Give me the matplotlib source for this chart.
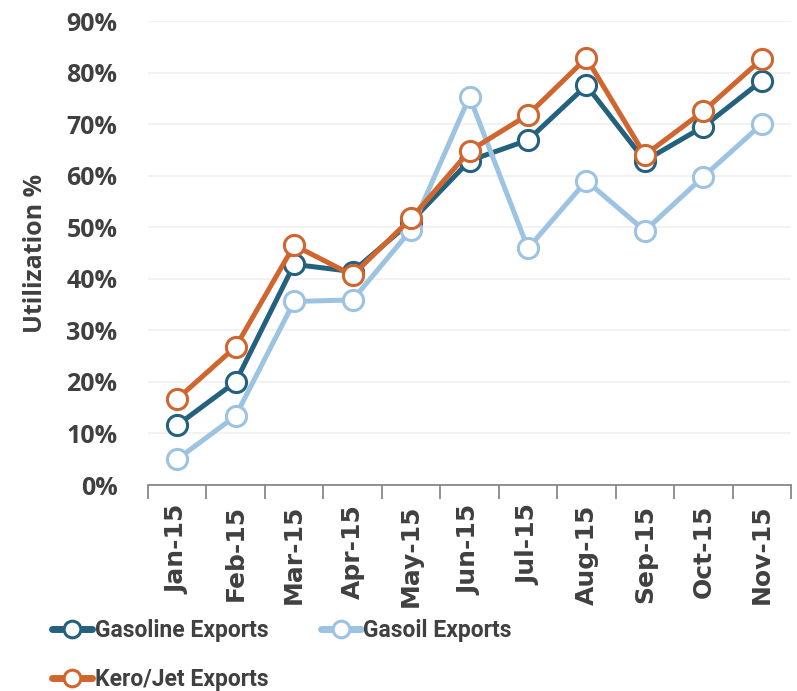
import matplotlib
matplotlib.use("Agg")
import matplotlib.pyplot as plt
from matplotlib.ticker import FixedLocator, PercentFormatter

months = ["Jan-15", "Feb-15", "Mar-15", "Apr-15", "May-15", "Jun-15",
          "Jul-15", "Aug-15", "Sep-15", "Oct-15", "Nov-15"]
gasoline = [11.6, 20.0, 42.8, 41.4, 51.1, 62.9, 66.9, 77.5, 62.9, 69.5, 78.4]
gasoil = [5.0, 13.4, 35.6, 35.9, 49.5, 75.3, 45.9, 59.0, 49.3, 59.8, 70.0]
kerojet = [16.7, 26.8, 46.5, 40.7, 51.7, 64.8, 71.8, 82.8, 64.0, 72.5, 82.6]

series = [
    ("Gasoline Exports", gasoline, "#24617f"),
    ("Gasoil Exports", gasoil, "#9dc3e3"),
    ("Kero/Jet Exports", kerojet, "#d1652e"),
]

TEXT = "#404040"
plt.rcParams["font.family"] = ["Open Sans", "DejaVu Sans"]
plt.rcParams["font.weight"] = "bold"

fig = plt.figure(figsize=(7.97, 6.91), dpi=100)
ax = fig.add_axes([0.1857, 0.2981, 0.8068, 0.6715])

x = list(range(len(months)))
lines = []
for i, (name, vals, col) in enumerate(series):
    ln, = ax.plot(x, vals, color=col, lw=3.6, marker="o", ms=14.5,
                  mfc="white", mec=col, mew=2.2, label=name, zorder=3 + i,
                  solid_capstyle="round")
    lines.append(ln)

ax.set_xlim(-0.5, len(months) - 0.5)
ax.set_ylim(0, 90)
ax.set_yticks(range(0, 91, 10))
ax.yaxis.set_major_formatter(PercentFormatter(decimals=0))
ax.grid(axis="y", color="#f0f0f0", lw=1.2, zorder=0)
ax.set_axisbelow(True)

# category axis: ticks between categories, labels at centres
ax.xaxis.set_major_locator(FixedLocator([i - 0.5 for i in range(len(months) + 1)]))
ax.xaxis.set_minor_locator(FixedLocator(x))
ax.set_xticklabels([])
ax.set_xticklabels(months, minor=True, rotation=90, fontsize=18,
                   fontweight="bold", color=TEXT, family="DejaVu Sans")
ax.tick_params(axis="x", which="major", length=10, width=1.2, color="#7f7f7f", direction="out")
ax.tick_params(axis="x", which="minor", length=0, pad=14)
ax.tick_params(axis="y", length=0, pad=22, labelsize=18, labelcolor=TEXT)

for s in ["top", "right", "left"]:
    ax.spines[s].set_visible(False)
ax.spines["bottom"].set_color("#7f7f7f")
ax.spines["bottom"].set_linewidth(1.2)

ax.set_ylabel("Utilization %", fontsize=18, fontweight="bold", color=TEXT,
              labelpad=13)

# row-wise order: Gasoline, Gasoil / Kero-Jet
order = [lines[0], lines[2], lines[1]]
leg = fig.legend(order, [l.get_label() for l in order],
                 loc="upper left", bbox_to_anchor=(0.054, 0.117), ncol=2,
                 frameon=False, handlelength=1.75, handletextpad=0.1,
                 columnspacing=2.3, labelspacing=1.1, borderaxespad=0,
                 prop={"family": ["Roboto", "DejaVu Sans"], "size": 16.5, "weight": "bold"})
for t in leg.get_texts():
    t.set_color(TEXT)
for h in leg.legend_handles:
    h.set_markersize(12)
    h.set_linewidth(5)

fig.savefig("out.png", dpi=100)
